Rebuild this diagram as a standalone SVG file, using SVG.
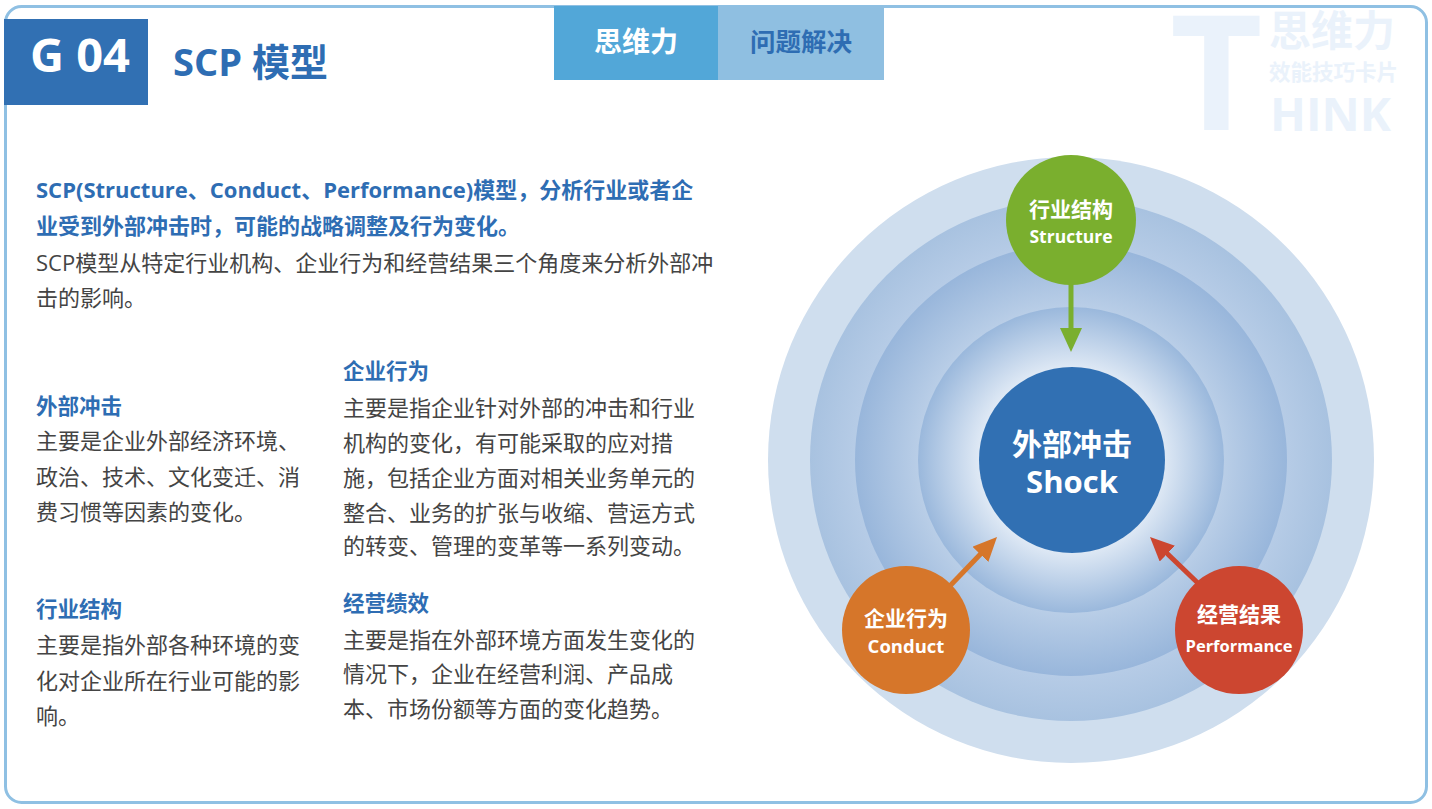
<svg xmlns="http://www.w3.org/2000/svg" width="1432" height="809" viewBox="0 0 1432 809">
<style>
.cn{font-family:'Open Sans','Noto Sans CJK SC',sans-serif}
.hd{font-family:'Open Sans','Noto Sans CJK SC',sans-serif;font-weight:bold;fill:#2e6db3;font-size:21.5px}
.bd{font-family:'Open Sans','Noto Sans CJK SC',sans-serif;fill:#444;font-size:22px}
.wm{font-family:'Open Sans','Noto Sans CJK SC',sans-serif;font-weight:bold;fill:#eaf2fb}
.wt{font-family:'Open Sans','Noto Sans CJK SC',sans-serif;font-weight:bold;fill:#fff;text-anchor:middle}
</style>
<defs>
<radialGradient id="g2" cx="0.5" cy="0.5" r="0.5"><stop offset="0.8" stop-color="#b8cde7"/><stop offset="1" stop-color="#a8c2e0"/></radialGradient>
<radialGradient id="g3" cx="0.5" cy="0.5" r="0.5"><stop offset="0.68" stop-color="#bcd0e8"/><stop offset="1" stop-color="#98b6db"/></radialGradient>
<radialGradient id="g4" cx="0.5" cy="0.5" r="0.5"><stop offset="0.6" stop-color="#dfe9f5"/><stop offset="1" stop-color="#9ab8dc"/></radialGradient>
<marker id="ag" markerUnits="userSpaceOnUse" markerWidth="24" markerHeight="22" refX="10" refY="11" orient="auto"><path d="M0,0 L24,11 L0,22 z" fill="#7aaf2e"/></marker>
<marker id="ao" markerUnits="userSpaceOnUse" markerWidth="24" markerHeight="22" refX="10" refY="11" orient="auto"><path d="M0,0 L24,11 L0,22 z" fill="#d6762a"/></marker>
<marker id="ar" markerUnits="userSpaceOnUse" markerWidth="24" markerHeight="22" refX="10" refY="11" orient="auto"><path d="M0,0 L24,11 L0,22 z" fill="#cc4630"/></marker>
</defs>
<rect width="1432" height="809" fill="#fff"/>
<rect x="5.5" y="6.5" width="1421" height="796" rx="16" fill="#fff" stroke="#8fc0e3" stroke-width="3"/>

<g id="watermark">
<text class="wm" x="1170" y="130" font-size="160">T</text>
<text class="wm" x="1269" y="46" font-size="42">思维力</text>
<text class="wm" x="1269" y="80" font-size="21.5">效能技巧卡片</text>
<text class="wm" x="1270" y="131" font-size="47">HINK</text>
</g>

<g id="title">
<rect x="4" y="19" width="144" height="86" fill="#3170b3"/>
<text class="cn" x="80" y="72" font-size="47" font-weight="bold" fill="#fff" text-anchor="middle">G 04</text>
<text class="cn" x="173" y="76" font-size="38" font-weight="bold" fill="#2e6db3">SCP 模型</text>
</g>

<g id="tabs">
<rect x="554" y="6" width="164" height="74" fill="#52a7d8"/>
<rect x="718" y="6" width="166" height="74" fill="#8fbfe1"/>
<text class="cn" x="636" y="52" font-size="28" font-weight="bold" fill="#fff" text-anchor="middle">思维力</text>
<text class="cn" x="801" y="51" font-size="25.5" font-weight="bold" fill="#2e6db3" text-anchor="middle">问题解决</text>
</g>

<g id="intro">
<text class="cn" x="36" y="198" font-size="22" font-weight="bold" fill="#2e6db3">SCP(Structure、Conduct、Performance)模型，分析行业或者企</text>
<text class="cn" x="36" y="234" font-size="22" font-weight="bold" fill="#2e6db3">业受到外部冲击时，可能的战略调整及行为变化。</text>
<text class="bd" x="36" y="271">SCP模型从特定行业机构、企业行为和经营结果三个角度来分析外部冲</text>
<text class="bd" x="36" y="306">击的影响。</text>
</g>

<g id="sec-shock">
<text class="hd" x="36" y="414">外部冲击</text>
<text class="bd" x="36" y="449">主要是企业外部经济环境、</text>
<text class="bd" x="36" y="485">政治、技术、文化变迁、消</text>
<text class="bd" x="36" y="520">费习惯等因素的变化。</text>
</g>
<g id="sec-structure">
<text class="hd" x="36" y="617">行业结构</text>
<text class="bd" x="36" y="653">主要是指外部各种环境的变</text>
<text class="bd" x="36" y="689">化对企业所在行业可能的影</text>
<text class="bd" x="36" y="724">响。</text>
</g>
<g id="sec-conduct">
<text class="hd" x="343" y="379">企业行为</text>
<text class="bd" x="343" y="416">主要是指企业针对外部的冲击和行业</text>
<text class="bd" x="343" y="451">机构的变化，有可能采取的应对措</text>
<text class="bd" x="343" y="486">施，包括企业方面对相关业务单元的</text>
<text class="bd" x="343" y="521">整合、业务的扩张与收缩、营运方式</text>
<text class="bd" x="343" y="554">的转变、管理的变革等一系列变动。</text>
</g>
<g id="sec-performance">
<text class="hd" x="343" y="611">经营绩效</text>
<text class="bd" x="343" y="648">主要是指在外部环境方面发生变化的</text>
<text class="bd" x="343" y="682">情况下，企业在经营利润、产品成</text>
<text class="bd" x="343" y="717">本、市场份额等方面的变化趋势。</text>
</g>

<g id="rings">
<circle cx="1071" cy="460" r="303" fill="#cfdeee"/>
<circle cx="1071" cy="460" r="261" fill="url(#g2)"/>
<circle cx="1071" cy="460" r="216" fill="url(#g3)"/>
<circle cx="1071" cy="460" r="153" fill="url(#g4)"/>
</g>

<g id="connectors" stroke-width="5" fill="none">
<line x1="1071" y1="284" x2="1071" y2="338" stroke="#7aaf2e" marker-end="url(#ag)"/>
<line x1="946" y1="590" x2="987.3" y2="547.1" stroke="#d6762a" marker-end="url(#ao)"/>
<line x1="1202" y1="587" x2="1160.1" y2="546.7" stroke="#cc4630" marker-end="url(#ar)"/>
</g>

<g id="node-shock">
<circle cx="1072" cy="460" r="93" fill="#3170b3"/>
<text class="wt" x="1072" y="455" font-size="30">外部冲击</text>
<text class="wt" x="1072" y="493" font-size="31">Shock</text>
</g>
<g id="node-structure">
<circle cx="1071" cy="220" r="65" fill="#7aaf2e"/>
<text class="wt" x="1071" y="217" font-size="21">行业结构</text>
<text class="wt" x="1071" y="243" font-size="17.5">Structure</text>
</g>
<g id="node-conduct">
<circle cx="906" cy="630" r="64" fill="#d6762a"/>
<text class="wt" x="906" y="626" font-size="21">企业行为</text>
<text class="wt" x="906" y="653" font-size="18.5">Conduct</text>
</g>
<g id="node-performance">
<circle cx="1239" cy="630" r="64" fill="#cc4630"/>
<text class="wt" x="1239" y="622" font-size="21">经营结果</text>
<text class="wt" x="1239" y="652" font-size="16.5">Performance</text>
</g>
</svg>
